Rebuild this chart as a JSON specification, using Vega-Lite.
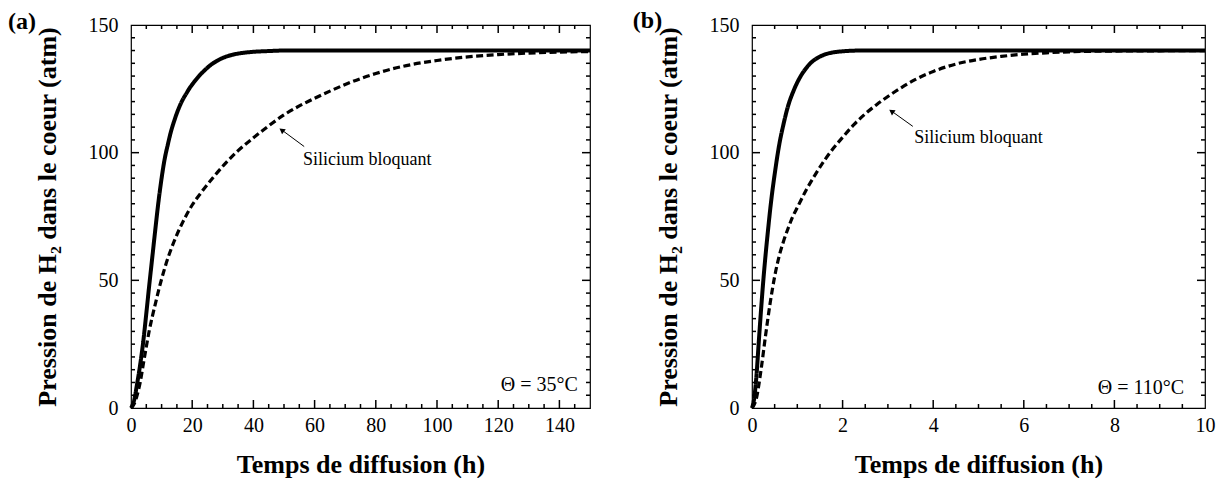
{
  "$schema": "https://vega.github.io/schema/vega-lite/v6.json",
  "padding": {"left": 7, "top": 7, "right": 5, "bottom": 0},
  "background": "white",
  "datasets": {
    "a": [
      {"t": 0, "P": 0, "s": "normal"}, {"t": 1, "P": 3, "s": "normal"}, {"t": 2, "P": 9.5, "s": "normal"}, {"t": 3, "P": 17, "s": "normal"},
      {"t": 4, "P": 26, "s": "normal"}, {"t": 5, "P": 37, "s": "normal"}, {"t": 6, "P": 48.5, "s": "normal"}, {"t": 7, "P": 59.5, "s": "normal"},
      {"t": 8, "P": 70.5, "s": "normal"}, {"t": 9, "P": 81, "s": "normal"}, {"t": 10, "P": 90, "s": "normal"}, {"t": 11, "P": 97.5, "s": "normal"},
      {"t": 12, "P": 103, "s": "normal"}, {"t": 13, "P": 108, "s": "normal"}, {"t": 14, "P": 112, "s": "normal"}, {"t": 15, "P": 115.5, "s": "normal"},
      {"t": 16, "P": 118.5, "s": "normal"}, {"t": 17, "P": 121, "s": "normal"}, {"t": 18, "P": 123, "s": "normal"}, {"t": 19, "P": 125, "s": "normal"},
      {"t": 20, "P": 126.7, "s": "normal"}, {"t": 22, "P": 129.7, "s": "normal"}, {"t": 24, "P": 132.2, "s": "normal"}, {"t": 26, "P": 134.3, "s": "normal"},
      {"t": 28, "P": 135.9, "s": "normal"}, {"t": 30, "P": 137.1, "s": "normal"}, {"t": 33, "P": 138.3, "s": "normal"}, {"t": 36, "P": 139, "s": "normal"},
      {"t": 40, "P": 139.5, "s": "normal"}, {"t": 45, "P": 139.8, "s": "normal"}, {"t": 50, "P": 140, "s": "normal"}, {"t": 70, "P": 140, "s": "normal"},
      {"t": 100, "P": 140, "s": "normal"}, {"t": 150, "P": 140, "s": "normal"},
      {"t": 0, "P": 0, "s": "bloquant"}, {"t": 1, "P": 1.5, "s": "bloquant"}, {"t": 2, "P": 5, "s": "bloquant"}, {"t": 3, "P": 10, "s": "bloquant"},
      {"t": 4, "P": 17, "s": "bloquant"}, {"t": 5, "P": 24, "s": "bloquant"}, {"t": 6, "P": 30.5, "s": "bloquant"}, {"t": 7, "P": 36, "s": "bloquant"},
      {"t": 8, "P": 41, "s": "bloquant"}, {"t": 9, "P": 46, "s": "bloquant"}, {"t": 10, "P": 50.5, "s": "bloquant"}, {"t": 12, "P": 58.5, "s": "bloquant"},
      {"t": 14, "P": 65, "s": "bloquant"}, {"t": 17, "P": 73, "s": "bloquant"}, {"t": 20, "P": 79.5, "s": "bloquant"}, {"t": 23, "P": 84.5, "s": "bloquant"},
      {"t": 27, "P": 90.5, "s": "bloquant"}, {"t": 31, "P": 96, "s": "bloquant"}, {"t": 35, "P": 100.8, "s": "bloquant"}, {"t": 40, "P": 105.8, "s": "bloquant"},
      {"t": 45, "P": 110.5, "s": "bloquant"}, {"t": 50, "P": 114.8, "s": "bloquant"}, {"t": 55, "P": 118.3, "s": "bloquant"}, {"t": 60, "P": 121.3, "s": "bloquant"},
      {"t": 65, "P": 124.1, "s": "bloquant"}, {"t": 70, "P": 126.7, "s": "bloquant"}, {"t": 75, "P": 129, "s": "bloquant"}, {"t": 80, "P": 131, "s": "bloquant"},
      {"t": 90, "P": 134.1, "s": "bloquant"}, {"t": 100, "P": 136.1, "s": "bloquant"}, {"t": 110, "P": 137.5, "s": "bloquant"}, {"t": 120, "P": 138.4, "s": "bloquant"},
      {"t": 130, "P": 139, "s": "bloquant"}, {"t": 140, "P": 139.4, "s": "bloquant"}, {"t": 150, "P": 139.6, "s": "bloquant"}
    ],
    "b": [
      {"t": 0, "P": 0, "s": "normal"}, {"t": 0.05, "P": 4, "s": "normal"}, {"t": 0.1, "P": 13, "s": "normal"}, {"t": 0.15, "P": 26, "s": "normal"},
      {"t": 0.2, "P": 38.5, "s": "normal"}, {"t": 0.25, "P": 50, "s": "normal"}, {"t": 0.3, "P": 60, "s": "normal"}, {"t": 0.35, "P": 69, "s": "normal"},
      {"t": 0.4, "P": 77.5, "s": "normal"}, {"t": 0.45, "P": 85, "s": "normal"}, {"t": 0.5, "P": 91.5, "s": "normal"}, {"t": 0.6, "P": 103, "s": "normal"},
      {"t": 0.7, "P": 111.5, "s": "normal"}, {"t": 0.8, "P": 118.5, "s": "normal"}, {"t": 0.9, "P": 123.5, "s": "normal"}, {"t": 1.0, "P": 127.5, "s": "normal"},
      {"t": 1.1, "P": 130.7, "s": "normal"}, {"t": 1.2, "P": 133.2, "s": "normal"}, {"t": 1.3, "P": 135.2, "s": "normal"}, {"t": 1.4, "P": 136.6, "s": "normal"},
      {"t": 1.6, "P": 138.4, "s": "normal"}, {"t": 1.8, "P": 139.3, "s": "normal"}, {"t": 2.0, "P": 139.7, "s": "normal"}, {"t": 2.4, "P": 140, "s": "normal"},
      {"t": 5, "P": 140, "s": "normal"}, {"t": 10, "P": 140, "s": "normal"},
      {"t": 0, "P": 0, "s": "bloquant"}, {"t": 0.1, "P": 4, "s": "bloquant"}, {"t": 0.2, "P": 15, "s": "bloquant"}, {"t": 0.3, "P": 28.5, "s": "bloquant"},
      {"t": 0.4, "P": 41, "s": "bloquant"}, {"t": 0.5, "P": 51.5, "s": "bloquant"}, {"t": 0.6, "P": 59.5, "s": "bloquant"}, {"t": 0.7, "P": 65.5, "s": "bloquant"},
      {"t": 0.8, "P": 70.5, "s": "bloquant"}, {"t": 0.9, "P": 75, "s": "bloquant"}, {"t": 1.0, "P": 78.5, "s": "bloquant"}, {"t": 1.2, "P": 85.5, "s": "bloquant"},
      {"t": 1.4, "P": 91.5, "s": "bloquant"}, {"t": 1.6, "P": 97, "s": "bloquant"}, {"t": 1.8, "P": 101.8, "s": "bloquant"}, {"t": 2.0, "P": 106, "s": "bloquant"},
      {"t": 2.25, "P": 111, "s": "bloquant"}, {"t": 2.5, "P": 115.2, "s": "bloquant"}, {"t": 2.75, "P": 118.8, "s": "bloquant"}, {"t": 3.0, "P": 122, "s": "bloquant"},
      {"t": 3.3, "P": 125.5, "s": "bloquant"}, {"t": 3.6, "P": 128.6, "s": "bloquant"}, {"t": 4.0, "P": 131.8, "s": "bloquant"}, {"t": 4.5, "P": 134.7, "s": "bloquant"},
      {"t": 5.0, "P": 136.5, "s": "bloquant"}, {"t": 5.5, "P": 137.7, "s": "bloquant"}, {"t": 6.0, "P": 138.6, "s": "bloquant"}, {"t": 6.5, "P": 139.1, "s": "bloquant"},
      {"t": 7.0, "P": 139.5, "s": "bloquant"}, {"t": 8.0, "P": 139.8, "s": "bloquant"}, {"t": 9.0, "P": 139.9, "s": "bloquant"}, {"t": 10, "P": 140, "s": "bloquant"}
    ],
    "txa": [
      {"v": 5, "k": "m"}, {"v": 10, "k": "m"}, {"v": 15, "k": "m"}, {"v": 20, "k": "M"}, {"v": 25, "k": "m"}, {"v": 30, "k": "m"}, {"v": 35, "k": "m"},
      {"v": 40, "k": "M"}, {"v": 45, "k": "m"}, {"v": 50, "k": "m"}, {"v": 55, "k": "m"}, {"v": 60, "k": "M"}, {"v": 65, "k": "m"}, {"v": 70, "k": "m"},
      {"v": 75, "k": "m"}, {"v": 80, "k": "M"}, {"v": 85, "k": "m"}, {"v": 90, "k": "m"}, {"v": 95, "k": "m"}, {"v": 100, "k": "M"}, {"v": 105, "k": "m"},
      {"v": 110, "k": "m"}, {"v": 115, "k": "m"}, {"v": 120, "k": "M"}, {"v": 125, "k": "m"}, {"v": 130, "k": "m"}, {"v": 135, "k": "m"}, {"v": 140, "k": "M"},
      {"v": 145, "k": "m"}
    ],
    "txb": [
      {"v": 0.5, "k": "m"}, {"v": 1, "k": "m"}, {"v": 1.5, "k": "m"}, {"v": 2, "k": "M"}, {"v": 2.5, "k": "m"}, {"v": 3, "k": "m"}, {"v": 3.5, "k": "m"},
      {"v": 4, "k": "M"}, {"v": 4.5, "k": "m"}, {"v": 5, "k": "m"}, {"v": 5.5, "k": "m"}, {"v": 6, "k": "M"}, {"v": 6.5, "k": "m"}, {"v": 7, "k": "m"},
      {"v": 7.5, "k": "m"}, {"v": 8, "k": "M"}, {"v": 8.5, "k": "m"}, {"v": 9, "k": "m"}, {"v": 9.5, "k": "m"}
    ],
    "ty": [
      {"v": 5, "k": "m"}, {"v": 10, "k": "m"}, {"v": 15, "k": "m"}, {"v": 20, "k": "m"}, {"v": 25, "k": "m"}, {"v": 30, "k": "m"}, {"v": 35, "k": "m"},
      {"v": 40, "k": "m"}, {"v": 45, "k": "m"}, {"v": 50, "k": "M"}, {"v": 55, "k": "m"}, {"v": 60, "k": "m"}, {"v": 65, "k": "m"}, {"v": 70, "k": "m"},
      {"v": 75, "k": "m"}, {"v": 80, "k": "m"}, {"v": 85, "k": "m"}, {"v": 90, "k": "m"}, {"v": 95, "k": "m"}, {"v": 100, "k": "M"}, {"v": 105, "k": "m"},
      {"v": 110, "k": "m"}, {"v": 115, "k": "m"}, {"v": 120, "k": "m"}, {"v": 125, "k": "m"}, {"v": 130, "k": "m"}, {"v": 135, "k": "m"}, {"v": 140, "k": "m"},
      {"v": 145, "k": "m"}
    ]
  },
  "hconcat": [
    {
      "width": 459,
      "height": 383,
      "resolve": {"axis": {"x": "independent", "y": "independent"}},
      "layer": [
        {
          "data": {"name": "a"},
          "mark": {"type": "line", "interpolate": "monotone", "color": "black", "strokeCap": "butt"},
          "encoding": {
            "x": {"field": "t", "type": "quantitative", "scale": {"domain": [0, 150], "nice": false},
                  "axis": {"orient": "bottom", "values": [0, 20, 40, 60, 80, 100, 120, 140], "labelPadding": 7, "title": "Temps de diffusion (h)", "titlePadding": 16}},
            "y": {"field": "P", "type": "quantitative", "scale": {"domain": [0, 150], "nice": false},
                  "axis": {"orient": "left", "values": [0, 50, 100, 150], "labelPadding": 13, "title": "Pression de H₂ dans le coeur (atm)", "titlePadding": 28}},
            "detail": {"field": "s"},
            "strokeDash": {"field": "s", "type": "nominal", "scale": {"domain": ["normal", "bloquant"], "range": [[1, 0], [7, 3.5]]}, "legend": null},
            "strokeWidth": {"field": "s", "type": "nominal", "scale": {"domain": ["normal", "bloquant"], "range": [4, 3.2]}, "legend": null}
          }
        },
        {
          "data": {"name": "txa"}, "transform": [{"filter": "datum.k == 'M'"}],
          "mark": {"type": "tick", "orient": "vertical", "size": 8, "thickness": 1.5, "yOffset": -4, "color": "black", "opacity": 1},
          "encoding": {"x": {"field": "v", "type": "quantitative", "axis": null}, "y": {"datum": 0, "type": "quantitative", "axis": null}}
        },
        {
          "data": {"name": "txa"}, "transform": [{"filter": "datum.k == 'm'"}],
          "mark": {"type": "tick", "orient": "vertical", "size": 4, "thickness": 1.5, "yOffset": -2, "color": "black", "opacity": 1},
          "encoding": {"x": {"field": "v", "type": "quantitative", "axis": null}, "y": {"datum": 0, "type": "quantitative", "axis": null}}
        },
        {
          "data": {"name": "txa"}, "transform": [{"filter": "datum.k == 'M'"}],
          "mark": {"type": "tick", "orient": "vertical", "size": 8, "thickness": 1.5, "yOffset": 4, "color": "black", "opacity": 1},
          "encoding": {"x": {"field": "v", "type": "quantitative", "axis": null}, "y": {"datum": 150, "type": "quantitative", "axis": null}}
        },
        {
          "data": {"name": "txa"}, "transform": [{"filter": "datum.k == 'm'"}],
          "mark": {"type": "tick", "orient": "vertical", "size": 4, "thickness": 1.5, "yOffset": 2, "color": "black", "opacity": 1},
          "encoding": {"x": {"field": "v", "type": "quantitative", "axis": null}, "y": {"datum": 150, "type": "quantitative", "axis": null}}
        },
        {
          "data": {"name": "ty"}, "transform": [{"filter": "datum.k == 'M'"}],
          "mark": {"type": "tick", "orient": "horizontal", "size": 8, "thickness": 1.5, "xOffset": 4, "color": "black", "opacity": 1},
          "encoding": {"y": {"field": "v", "type": "quantitative", "axis": null}, "x": {"datum": 0, "type": "quantitative", "axis": null}}
        },
        {
          "data": {"name": "ty"}, "transform": [{"filter": "datum.k == 'm'"}],
          "mark": {"type": "tick", "orient": "horizontal", "size": 4, "thickness": 1.5, "xOffset": 2, "color": "black", "opacity": 1},
          "encoding": {"y": {"field": "v", "type": "quantitative", "axis": null}, "x": {"datum": 0, "type": "quantitative", "axis": null}}
        },
        {
          "data": {"name": "ty"}, "transform": [{"filter": "datum.k == 'M'"}],
          "mark": {"type": "tick", "orient": "horizontal", "size": 8, "thickness": 1.5, "xOffset": -4, "color": "black", "opacity": 1},
          "encoding": {"y": {"field": "v", "type": "quantitative", "axis": null}, "x": {"datum": 150, "type": "quantitative", "axis": null}}
        },
        {
          "data": {"name": "ty"}, "transform": [{"filter": "datum.k == 'm'"}],
          "mark": {"type": "tick", "orient": "horizontal", "size": 4, "thickness": 1.5, "xOffset": -2, "color": "black", "opacity": 1},
          "encoding": {"y": {"field": "v", "type": "quantitative", "axis": null}, "x": {"datum": 150, "type": "quantitative", "axis": null}}
        },
        {
          "data": {"values": [{"t": 56.6, "P": 102.4, "t2": 49.6, "P2": 108.6}]},
          "mark": {"type": "rule", "color": "black", "strokeWidth": 1},
          "encoding": {
            "x": {"field": "t", "type": "quantitative", "axis": null},
            "y": {"field": "P", "type": "quantitative", "axis": null},
            "x2": {"field": "t2"},
            "y2": {"field": "P2"}
          }
        },
        {
          "data": {"values": [{"t": 49.25, "P": 108.8}]},
          "mark": {"type": "point", "shape": "triangle-up", "filled": true, "color": "black", "opacity": 1, "size": 40, "angle": 306},
          "encoding": {
            "x": {"field": "t", "type": "quantitative", "axis": null},
            "y": {"field": "P", "type": "quantitative", "axis": null}
          }
        },
        {
          "data": {"values": [{"t": 56.2, "P": 95.2, "label": "Silicium bloquant"}]},
          "mark": {"type": "text", "font": "Liberation Serif", "fontSize": 18, "align": "left", "baseline": "alphabetic", "color": "black"},
          "encoding": {
            "x": {"field": "t", "type": "quantitative", "axis": null},
            "y": {"field": "P", "type": "quantitative", "axis": null},
            "text": {"field": "label"}
          }
        },
        {
          "data": {"values": [{"t": 146, "P": 6.6, "label": "Θ = 35°C"}]},
          "mark": {"type": "text", "font": "Liberation Serif", "fontSize": 20, "align": "right", "baseline": "alphabetic", "color": "black"},
          "encoding": {
            "x": {"field": "t", "type": "quantitative", "axis": null},
            "y": {"field": "P", "type": "quantitative", "axis": null},
            "text": {"field": "label"}
          }
        },
        {
          "data": {"values": [{"t": -40.2, "P": 148.4, "label": "(a)"}]},
          "mark": {"type": "text", "font": "Liberation Serif", "fontSize": 24, "fontWeight": "bold", "align": "left", "baseline": "alphabetic", "color": "black"},
          "encoding": {
            "x": {"field": "t", "type": "quantitative", "axis": null},
            "y": {"field": "P", "type": "quantitative", "axis": null},
            "text": {"field": "label"}
          }
        }
      ]
    },
    {
      "width": 453,
      "height": 383,
      "resolve": {"axis": {"x": "independent", "y": "independent"}},
      "layer": [
        {
          "data": {"name": "b"},
          "mark": {"type": "line", "interpolate": "monotone", "color": "black", "strokeCap": "butt"},
          "encoding": {
            "x": {"field": "t", "type": "quantitative", "scale": {"domain": [0, 10], "nice": false},
                  "axis": {"orient": "bottom", "values": [0, 2, 4, 6, 8, 10], "labelPadding": 7, "title": "Temps de diffusion (h)", "titlePadding": 16}},
            "y": {"field": "P", "type": "quantitative", "scale": {"domain": [0, 150], "nice": false},
                  "axis": {"orient": "left", "values": [0, 50, 100, 150], "labelPadding": 13, "title": "Pression de H₂ dans le coeur (atm)", "titlePadding": 28}},
            "detail": {"field": "s"},
            "strokeDash": {"field": "s", "type": "nominal", "scale": {"domain": ["normal", "bloquant"], "range": [[1, 0], [7, 3.5]]}, "legend": null},
            "strokeWidth": {"field": "s", "type": "nominal", "scale": {"domain": ["normal", "bloquant"], "range": [4, 3.2]}, "legend": null}
          }
        },
        {
          "data": {"name": "txb"}, "transform": [{"filter": "datum.k == 'M'"}],
          "mark": {"type": "tick", "orient": "vertical", "size": 8, "thickness": 1.5, "yOffset": -4, "color": "black", "opacity": 1},
          "encoding": {"x": {"field": "v", "type": "quantitative", "axis": null}, "y": {"datum": 0, "type": "quantitative", "axis": null}}
        },
        {
          "data": {"name": "txb"}, "transform": [{"filter": "datum.k == 'm'"}],
          "mark": {"type": "tick", "orient": "vertical", "size": 4, "thickness": 1.5, "yOffset": -2, "color": "black", "opacity": 1},
          "encoding": {"x": {"field": "v", "type": "quantitative", "axis": null}, "y": {"datum": 0, "type": "quantitative", "axis": null}}
        },
        {
          "data": {"name": "txb"}, "transform": [{"filter": "datum.k == 'M'"}],
          "mark": {"type": "tick", "orient": "vertical", "size": 8, "thickness": 1.5, "yOffset": 4, "color": "black", "opacity": 1},
          "encoding": {"x": {"field": "v", "type": "quantitative", "axis": null}, "y": {"datum": 150, "type": "quantitative", "axis": null}}
        },
        {
          "data": {"name": "txb"}, "transform": [{"filter": "datum.k == 'm'"}],
          "mark": {"type": "tick", "orient": "vertical", "size": 4, "thickness": 1.5, "yOffset": 2, "color": "black", "opacity": 1},
          "encoding": {"x": {"field": "v", "type": "quantitative", "axis": null}, "y": {"datum": 150, "type": "quantitative", "axis": null}}
        },
        {
          "data": {"name": "ty"}, "transform": [{"filter": "datum.k == 'M'"}],
          "mark": {"type": "tick", "orient": "horizontal", "size": 8, "thickness": 1.5, "xOffset": 4, "color": "black", "opacity": 1},
          "encoding": {"y": {"field": "v", "type": "quantitative", "axis": null}, "x": {"datum": 0, "type": "quantitative", "axis": null}}
        },
        {
          "data": {"name": "ty"}, "transform": [{"filter": "datum.k == 'm'"}],
          "mark": {"type": "tick", "orient": "horizontal", "size": 4, "thickness": 1.5, "xOffset": 2, "color": "black", "opacity": 1},
          "encoding": {"y": {"field": "v", "type": "quantitative", "axis": null}, "x": {"datum": 0, "type": "quantitative", "axis": null}}
        },
        {
          "data": {"name": "ty"}, "transform": [{"filter": "datum.k == 'M'"}],
          "mark": {"type": "tick", "orient": "horizontal", "size": 8, "thickness": 1.5, "xOffset": -4, "color": "black", "opacity": 1},
          "encoding": {"y": {"field": "v", "type": "quantitative", "axis": null}, "x": {"datum": 10, "type": "quantitative", "axis": null}}
        },
        {
          "data": {"name": "ty"}, "transform": [{"filter": "datum.k == 'm'"}],
          "mark": {"type": "tick", "orient": "horizontal", "size": 4, "thickness": 1.5, "xOffset": -2, "color": "black", "opacity": 1},
          "encoding": {"y": {"field": "v", "type": "quantitative", "axis": null}, "x": {"datum": 10, "type": "quantitative", "axis": null}}
        },
        {
          "data": {"values": [{"t": 3.55, "P": 110.3, "t2": 3.11, "P2": 115.9}]},
          "mark": {"type": "rule", "color": "black", "strokeWidth": 1},
          "encoding": {
            "x": {"field": "t", "type": "quantitative", "axis": null},
            "y": {"field": "P", "type": "quantitative", "axis": null},
            "x2": {"field": "t2"},
            "y2": {"field": "P2"}
          }
        },
        {
          "data": {"values": [{"t": 3.08, "P": 116.2}]},
          "mark": {"type": "point", "shape": "triangle-up", "filled": true, "color": "black", "opacity": 1, "size": 40, "angle": 305},
          "encoding": {
            "x": {"field": "t", "type": "quantitative", "axis": null},
            "y": {"field": "P", "type": "quantitative", "axis": null}
          }
        },
        {
          "data": {"values": [{"t": 3.58, "P": 103.7, "label": "Silicium bloquant"}]},
          "mark": {"type": "text", "font": "Liberation Serif", "fontSize": 18, "align": "left", "baseline": "alphabetic", "color": "black"},
          "encoding": {
            "x": {"field": "t", "type": "quantitative", "axis": null},
            "y": {"field": "P", "type": "quantitative", "axis": null},
            "text": {"field": "label"}
          }
        },
        {
          "data": {"values": [{"t": 9.54, "P": 5.5, "label": "Θ = 110°C"}]},
          "mark": {"type": "text", "font": "Liberation Serif", "fontSize": 20, "align": "right", "baseline": "alphabetic", "color": "black"},
          "encoding": {
            "x": {"field": "t", "type": "quantitative", "axis": null},
            "y": {"field": "P", "type": "quantitative", "axis": null},
            "text": {"field": "label"}
          }
        },
        {
          "data": {"values": [{"t": -2.63, "P": 149, "label": "(b)"}]},
          "mark": {"type": "text", "font": "Liberation Serif", "fontSize": 24, "fontWeight": "bold", "align": "left", "baseline": "alphabetic", "color": "black"},
          "encoding": {
            "x": {"field": "t", "type": "quantitative", "axis": null},
            "y": {"field": "P", "type": "quantitative", "axis": null},
            "text": {"field": "label"}
          }
        }
      ]
    }
  ],
  "spacing": 162,
  "bounds": "flush",
  "config": {
    "font": "Liberation Serif",
    "view": {"stroke": "black", "strokeWidth": 1.2},
    "axis": {
      "grid": false,
      "domain": false,
      "ticks": false,
      "labelColor": "black",
      "titleColor": "black",
      "labelFont": "Liberation Serif",
      "titleFont": "Liberation Serif",
      "labelFontSize": 20,
      "titleFontSize": 26,
      "titleFontWeight": "bold",
      "labelFlush": false,
      "labelOverlap": false
    }
  }
}
